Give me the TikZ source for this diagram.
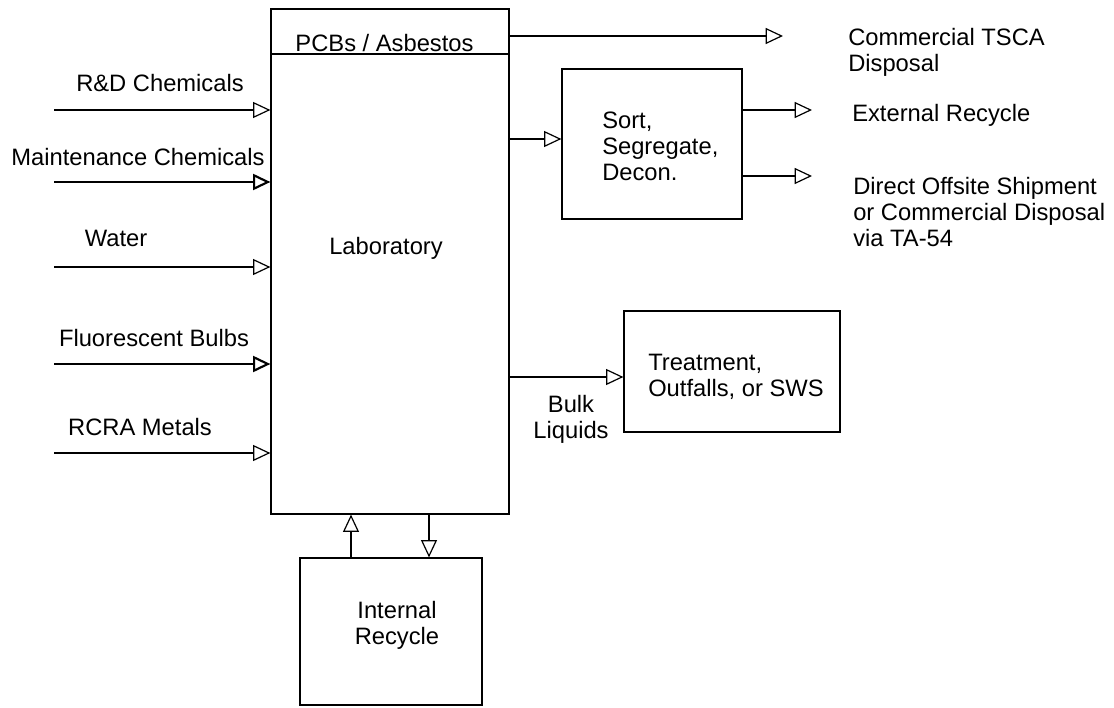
\documentclass[tikz,border=0pt]{standalone}
\usepackage{fontspec}
\setmainfont{Liberation Sans}
\usetikzlibrary{arrows.meta,positioning}

\begin{document}
\begin{tikzpicture}[x=0.75pt,y=-0.75pt,
    box/.style={draw,line width=0.9pt,inner sep=0pt},
    flow/.style={line width=0.9pt,-{Triangle[open,length=13pt,width=12pt]}},
    txt/.style={inner sep=0pt,align=left,font=\fontsize{17.8}{19.5}\selectfont}]
      \useasboundingbox (0,0) rectangle (1114,707);
      % boxes
      \node[box,minimum width=178.5pt,minimum height=378.75pt] (lab) at (390,261.5) {};
      \node[box,minimum width=135pt,minimum height=112.5pt] (sort) at (652,144) {};
      \node[box,minimum width=162pt,minimum height=90.75pt] (trt) at (732,371.5) {};
      \node[box,minimum width=136.5pt,minimum height=110.25pt] (irc) at (391,631.5) {};
      \coordinate (pcb) at (271,54);
      \draw[line width=0.9pt] (pcb) -- (pcb -| lab.east);
      % texts
      \node[txt] (labtxt) at (386,248) {Laboratory};
      \node[txt] (pcbtxt) at (384.5,43) {PCBs / Asbestos};
      \node[txt,anchor=west] (sorttxt) at (602,146) {Sort,\\Segregate,\\Decon.};
      \node[txt,anchor=west] (trttxt) at (648,377) {Treatment,\\Outfalls, or SWS};
      \node[txt,align=center] (irctxt) at (397,625.5) {Internal\\Recycle};
      \node[txt,align=center] (bulk) at (571,419.5) {Bulk\\Liquids};
      % inputs
      \foreach \name/\y/\lx/\ly/\t/\w in {rd/110/160/83/R\&D Chemicals/0.9pt,
          mnt/182/138/157/Maintenance Chemicals/1.6pt,
          wat/267/116/238/Water/0.9pt,
          flu/364/154/338/Fluorescent Bulbs/1.6pt,
          rcra/453/140/427/RCRA Metals/0.9pt}{
        \coordinate (\name) at (54,\y);
        \node[txt] (\name txt) at (\lx,\ly) {\t};
        \draw[flow,line width=\w] (\name) -- (\name -| lab.west);
      }
      % outputs
      \coordinate (tsca) at (783,36);
      \node[txt,anchor=west] (tscatxt) at (848,52) {Commercial TSCA\\Disposal};
      \draw[flow] (tsca -| lab.east) -- (tsca);
      \coordinate (srtin) at (562,139);
      \draw[flow] (srtin -| lab.east) -- (srtin -| sort.west);
      \coordinate (ext) at (812,110);
      \node[txt,anchor=west] (exttxt) at (852,115) {External Recycle};
      \draw[flow] (ext -| sort.east) -- (ext);
      \coordinate (dos) at (812,176);
      \node[txt,anchor=west] (dostxt) at (853,212.5) {Direct Offsite Shipment\\or Commercial Disposal\\via TA-54};
      \draw[flow] (dos -| sort.east) -- (dos);
      \coordinate (blk) at (624,377);
      \draw[flow] (blk -| lab.east) -- (blk -| trt.west);
      % internal recycle
      \coordinate (up) at (351,558);
      \coordinate (dn) at (429,558);
      \draw[flow] (up |- irc.north) -- (up |- lab.south);
      \draw[flow] (dn |- lab.south) -- (dn |- irc.north);
\end{tikzpicture}
\end{document}
